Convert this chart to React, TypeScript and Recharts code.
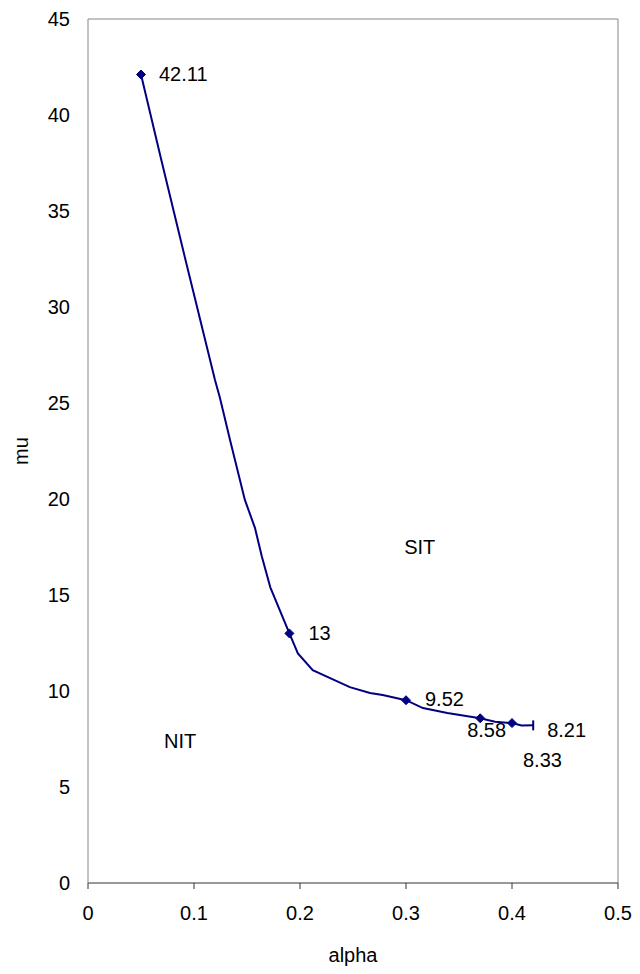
import React from "react";
import {
  ComposedChart,
  Line,
  Scatter,
  XAxis,
  YAxis,
  ReferenceLine,
  ReferenceDot,
  Label,
} from "recharts";

const curveAlpha = [
  0.05, 0.069, 0.092, 0.1198, 0.1245, 0.134, 0.148, 0.1575, 0.164, 0.172, 0.19,
  0.198, 0.212, 0.247, 0.266, 0.278, 0.3, 0.316, 0.339, 0.37, 0.384, 0.4, 0.409,
  0.42,
];
const curveMu = [
  42.11, 37.7, 32.45, 26.2, 25.26, 23.07, 19.95, 18.5, 17.0, 15.4, 13, 11.96,
  11.09, 10.2, 9.9, 9.79, 9.52, 9.11, 8.85, 8.58, 8.4, 8.33, 8.2, 8.21,
];

// Marked points
const markerAlpha = [0.05, 0.19, 0.3, 0.37, 0.4, 0.42];
const markerMu = [42.11, 13, 9.52, 8.58, 8.33, 8.21];
const markerLabels = ["42.11", "13", "9.52", "8.58", "8.33", "8.21"];

// Axis ticks
const xTicks = [0, 0.1, 0.2, 0.3, 0.4, 0.5];
const yTicks = [0, 5, 10, 15, 20, 25, 30, 35, 40, 45];

// Region annotations
const regionNames = ["SIT", "NIT"];
const regionAlpha = [0.313, 0.087];
const regionMu = [17.5, 7.4];

const curveData = curveAlpha.map((a, i) => ({ alpha: a, mu: curveMu[i] }));
const markerData = markerAlpha.map((a, i) => ({
  alpha: a,
  mu: markerMu[i],
  label: markerLabels[i],
  idx: i,
}));

// label placement (style)
const labelOffsets = [
  [18, 0],
  [19, 0],
  [19, -1],
  [-13, 12],
  [11, 37],
  [14, 5],
];

const FONT = "'Liberation Sans', Arial, sans-serif";
const FS = 20;
const NAVY = "#000080";

const MarkerShape = (props: any) => {
  const { cx, cy, payload } = props;
  if (cx == null || cy == null) return null;
  const i = payload.idx;
  const [dx, dy] = labelOffsets[i];
  const last = i === markerData.length - 1;
  const s = 4.5;
  return (
    <g>
      {last ? (
        <line x1={cx} y1={cy - 5} x2={cx} y2={cy + 5} stroke={NAVY} strokeWidth={2} />
      ) : (
        <path
          d={`M${cx},${cy - s} L${cx + s},${cy} L${cx},${cy + s} L${cx - s},${cy} Z`}
          fill={NAVY}
          stroke={NAVY}
        />
      )}
      <text
        x={cx + dx}
        y={cy + dy}
        fontFamily={FONT}
        fontSize={FS}
        fill="#000"
        textAnchor="start"
        dominantBaseline="central"
      >
        {payload.label}
      </text>
    </g>
  );
};

export default function App() {
  return (
    <div style={{ position: "absolute", left: 0, top: 0, width: 640, height: 974, background: "#fff" }}>
      <ComposedChart
        width={640}
        height={974}
        margin={{ top: 19, right: 22, bottom: 0, left: 0 }}
        style={{ fontFamily: FONT }}
      >
        <XAxis
          type="number"
          dataKey="alpha"
          domain={[0, 0.5]}
          ticks={xTicks}
          allowDataOverflow
          height={91}
          stroke="#333"
          tickSize={6}
          tickMargin={17}
          tick={{ fill: "#000", fontSize: FS, fontFamily: FONT }}
          tickFormatter={(v: number) => String(v)}
        >
          <Label
            content={(p: any) => {
              const vb = p.viewBox;
              return (
                <text
                  x={vb.x + vb.width / 2}
                  y={955}
                  textAnchor="middle"
                  dominantBaseline="central"
                  fontFamily={FONT}
                  fontSize={FS}
                  fill="#000"
                >
                  alpha
                </text>
              );
            }}
          />
        </XAxis>
        <YAxis
          type="number"
          dataKey="mu"
          domain={[0, 45]}
          ticks={yTicks}
          allowDataOverflow
          width={88}
          stroke="#868686"
          tickLine={false}
          tickSize={0}
          tickMargin={18}
          tick={{ fill: "#000", fontSize: FS, fontFamily: FONT }}
        >
          <Label
            content={(p: any) => {
              const vb = p.viewBox;
              const cx = 21;
              const cy = vb.y + vb.height / 2;
              return (
                <text
                  x={cx}
                  y={cy}
                  transform={`rotate(-90, ${cx}, ${cy})`}
                  textAnchor="middle"
                  dominantBaseline="central"
                  fontFamily={FONT}
                  fontSize={FS}
                  fill="#000"
                >
                  mu
                </text>
              );
            }}
          />
        </YAxis>
        <ReferenceLine y={45} stroke="#868686" strokeWidth={1} />
        <ReferenceLine x={0.5} stroke="#868686" strokeWidth={1} />
        {regionNames.map((name, i) => (
          <ReferenceDot
            key={name}
            x={regionAlpha[i]}
            y={regionMu[i]}
            r={0}
            fill="none"
            stroke="none"
            label={{ value: name, position: "center", fill: "#000", fontSize: FS, fontFamily: FONT }}
          />
        ))}
        <Line
          data={curveData}
          dataKey="mu"
          type="linear"
          stroke={NAVY}
          strokeWidth={2}
          dot={false}
          activeDot={false}
          isAnimationActive={false}
        />
        <Scatter
          data={markerData}
          dataKey="mu"
          shape={MarkerShape}
          isAnimationActive={false}
        />
      </ComposedChart>
    </div>
  );
}
